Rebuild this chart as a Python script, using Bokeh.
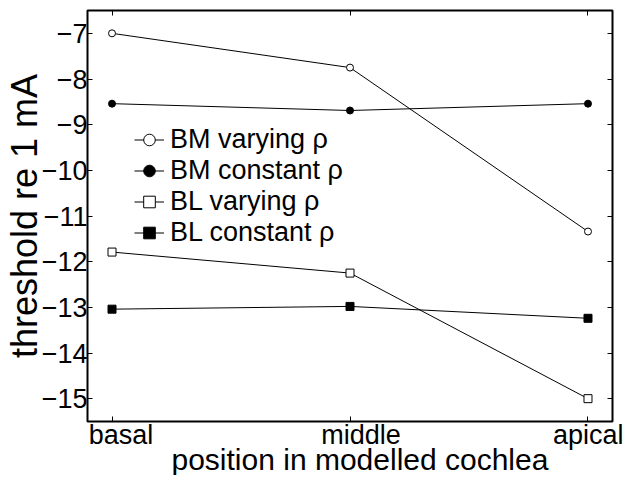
from bokeh.plotting import figure
from bokeh.models import LinearAxis, FixedTicker, Legend, LegendItem, Range1d, Title
from bokeh.embed import file_html
from bokeh.resources import INLINE

# ---- data ----
positions = ["basal", "middle", "apical"]
xpos = [0, 1, 2]
bm_varying = [-7.0, -7.75, -11.34]
bm_constant = [-8.54, -8.69, -8.54]
bl_varying = [-11.79, -12.25, -15.0]
bl_constant = [-13.04, -12.98, -13.24]
y_ticks = [-15, -14, -13, -12, -11, -10, -9, -8, -7]
series_names = ["BM varying \u03c1", "BM constant \u03c1", "BL varying \u03c1", "BL constant \u03c1"]
x_title = "position in modelled cochlea"
y_title = "threshold re 1 mA"

# label positions (the reference draws its category labels slightly right of the ticks)
label_pos = [0.038, 1.046, 2.005]

FONT = "Liberation Sans"

p = figure(width=623, height=475, output_backend="svg", toolbar_location=None,
           x_range=Range1d(-0.103, 2.103), y_range=Range1d(-15.5, -6.5),
           x_axis_type=None, y_axis_type=None)
p.min_border = 0
p.min_border_left = 85
p.min_border_right = 11
p.min_border_top = 10
p.min_border_bottom = 54
p.grid.visible = False
p.outline_line_color = "black"
p.outline_line_width = 2
p.background_fill_color = "white"
p.border_fill_color = "white"


def tick_only_axis(ticks):
    ax = LinearAxis(ticker=FixedTicker(ticks=ticks, minor_ticks=[]))
    ax.axis_line_color = None
    ax.major_tick_in = 5
    ax.major_tick_out = 0
    ax.major_tick_line_color = "black"
    ax.major_tick_line_width = 1
    ax.minor_tick_line_color = None
    ax.major_label_text_color = None
    ax.major_label_standoff = 0
    return ax


# left axis with labels and title
yax = LinearAxis(ticker=FixedTicker(ticks=y_ticks, minor_ticks=[]))
yax.axis_line_color = None
yax.major_tick_in = 5
yax.major_tick_out = 0
yax.major_tick_line_color = "black"
yax.minor_tick_line_color = None
yax.major_label_text_font = FONT
yax.major_label_text_font_size = "27px"
yax.major_label_text_color = "black"
yax.major_label_standoff = 0
yax.axis_label = y_title
yax.axis_label_text_font = FONT
yax.axis_label_text_font_size = "36px"
yax.axis_label_text_font_style = "normal"
yax.axis_label_text_color = "black"
yax.axis_label_text_line_height = 1.0
yax.axis_label_standoff = -6
p.add_layout(yax, "left")

# bottom: tick marks axis (closest to frame), then label axis, then title
p.add_layout(tick_only_axis(xpos), "below")

xlab = LinearAxis(ticker=FixedTicker(ticks=label_pos, minor_ticks=[]))
xlab.major_label_overrides = {lp: name for lp, name in zip(label_pos, positions)}
xlab.axis_line_color = None
xlab.major_tick_line_color = None
xlab.major_tick_in = 0
xlab.major_tick_out = 0
xlab.minor_tick_line_color = None
xlab.major_label_text_font = FONT
xlab.major_label_text_font_size = "27px"
xlab.major_label_text_line_height = 1.0
xlab.major_label_text_color = "black"
xlab.major_label_standoff = -2
p.add_layout(xlab, "below")

xt = Title(text=x_title, align="left", offset=84, standoff=-20, vertical_align="top",
           text_font=FONT, text_font_size="30px", text_font_style="normal",
           text_line_height=1.0, text_color="black")
p.add_layout(xt, "below")

# top and right inward ticks
p.add_layout(tick_only_axis(xpos), "above")
p.add_layout(tick_only_axis(y_ticks), "right")

# ---- series ----
styles = [
    (bm_varying, "circle", "white", 7),
    (bm_constant, "circle", "black", 7),
    (bl_varying, "square", "white", 8),
    (bl_constant, "square", "black", 8),
]
items = []
for name, (ys, marker, fill, size) in zip(series_names, styles):
    ln = p.line(xpos, ys, line_color="black", line_width=1)
    sc = p.scatter(xpos, ys, marker=marker, size=size, fill_color=fill,
                   line_color="black", line_width=1)
    items.append(LegendItem(label=name, renderers=[ln, sc]))

legend = Legend(items=items, location=(47, 173))
legend.label_text_font = FONT
legend.label_text_font_size = "27px"
legend.label_text_line_height = 0.9
legend.label_text_color = "black"
legend.label_height = 29
legend.glyph_height = 29
legend.glyph_width = 30
legend.label_standoff = 6
legend.spacing = 0
legend.padding = 0
legend.margin = 0
legend.border_line_color = None
legend.background_fill_alpha = 0
p.add_layout(legend, "center")

open("out.html", "w").write(file_html(p, INLINE))
